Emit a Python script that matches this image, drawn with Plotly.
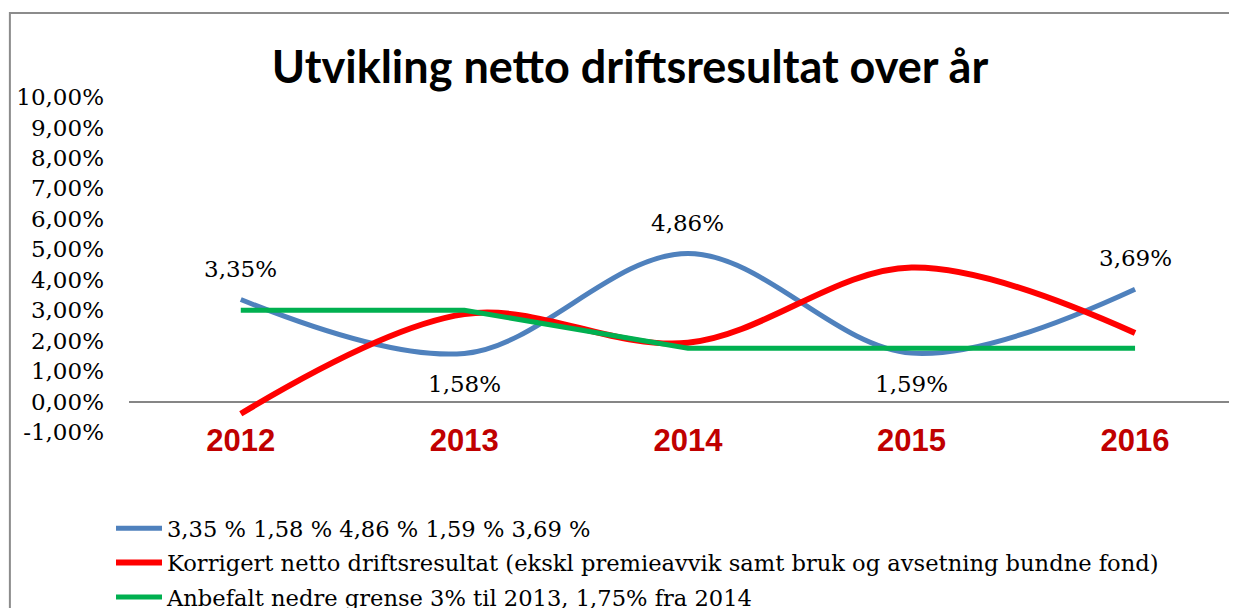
import plotly.graph_objects as go

years = ["2012", "2013", "2014", "2015", "2016"]
netto = [3.35, 1.58, 4.86, 1.59, 3.69]
korrigert = [-0.40, 2.87, 1.93, 4.40, 2.25]
anbefalt = [3.00, 3.00, 1.75, 1.75, 1.75]
netto_labels = ["3,35%", "1,58%", "4,86%", "1,59%", "3,69%"]
label_side = [1, -1, 1, -1, 1]
y_ticks = list(range(-1, 11))
y_ticktext = [f"{v},00%" for v in y_ticks]

names = [
    "3,35 % 1,58 % 4,86 % 1,59 % 3,69 %",
    "Korrigert netto driftsresultat (ekskl premieavvik samt bruk og avsetning bundne fond)",
    "Anbefalt nedre grense 3% til 2013, 1,75% fra 2014",
]

serif = "DejaVu Serif"

fig = go.Figure()
fig.add_trace(go.Scatter(x=years, y=netto, mode="lines", name=names[0], legendgroup="a",
                         line=dict(color="#4F81BD", width=5, shape="spline", smoothing=1)))
fig.add_trace(go.Scatter(x=years, y=korrigert, mode="lines", name=names[1], legendgroup="b",
                         line=dict(color="#FF0000", width=6, shape="spline", smoothing=1)))
fig.add_trace(go.Scatter(x=years, y=anbefalt, mode="lines", name=names[2], legendgroup="c",
                         line=dict(color="#00B050", width=5)))

# dataetiketter for blå serie (kategoriakse -> indeks)
for i, (v, txt, s) in enumerate(zip(netto, netto_labels, label_side)):
    fig.add_annotation(x=i, y=v, text=txt, showarrow=False, yshift=31 * s,
                       font=dict(family=serif, size=23, color="black"))

# ramme rundt diagrammet
fig.add_shape(type="rect", xref="paper", yref="paper", x0=-0.1075, x1=1.05, y0=-0.6, y1=1.2505,
              line=dict(color="#8C8C8C", width=2), fillcolor="rgba(0,0,0,0)", layer="below")

# siden har 8 px marg i body, så alt flyttes 8 px opp/venstre
fig.update_layout(
    width=1237, height=608,
    margin=dict(l=121, r=8, t=89, b=183.5, autoexpand=False),
    paper_bgcolor="white", plot_bgcolor="white",
    title=dict(text="<b>Utvikling netto driftsresultat over år</b>", x=622 / 1237, xanchor="center",
               xref="container", yref="container", y=1 - 59 / 608, yanchor="middle",
               font=dict(family="Lato", size=45, color="black")),
    xaxis=dict(type="category", range=[-0.5, 4.456], showgrid=False, showline=False, ticks="",
               anchor="free", position=0.04, tickangle=0,
               tickfont=dict(family="Liberation Sans", size=31, color="#C00000", weight="bold")),
    yaxis=dict(range=[-1, 10], tickvals=y_ticks, ticktext=y_ticktext, showgrid=False,
               showline=False, ticks="", zeroline=True, zerolinecolor="#868686", zerolinewidth=2,
               ticklabelstandoff=24, tickfont=dict(family=serif, size=23, color="black")),
    legend=dict(xref="container", yref="container", x=103 / 1237, y=1 - 499 / 608,
                xanchor="left", yanchor="top", tracegroupgap=2, itemwidth=46,
                font=dict(family=serif, size=22.6, color="black"), bgcolor="rgba(0,0,0,0)"),
    showlegend=True,
)

fig.write_html("out.html")
